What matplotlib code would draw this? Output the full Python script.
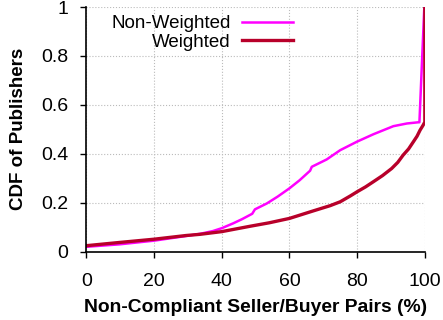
import matplotlib
matplotlib.use('Agg')
from matplotlib import pyplot as plt

# CDF of publishers vs. share of non-compliant seller/buyer pairs
x_nw = [0, 9.8, 20, 29.4, 33.6, 37.3, 40, 43.4, 46, 49.0, 49.8, 53.3, 56.5, 60, 63, 66.1, 66.6,
        71, 75, 80, 84.8, 90.7, 94.7, 98.1, 98.4, 99.85]
y_nw = [0.020, 0.030, 0.045, 0.064, 0.073, 0.084, 0.096, 0.116, 0.133, 0.155, 0.173, 0.197,
        0.225, 0.259, 0.292, 0.331, 0.347, 0.377, 0.415, 0.45, 0.48, 0.513, 0.524, 0.529,
        0.529, 1.0]

x_w = [0, 10, 20, 29.4, 33.6, 40, 48.4, 54, 60, 67.1, 72, 75, 78, 80, 82.5, 84.8, 87.5, 90.2,
       92, 93.6, 95.2, 96.6, 97.7, 98.6, 99.4, 100, 100]
y_w = [0.0245, 0.038, 0.051, 0.066, 0.071, 0.082, 0.104, 0.118, 0.136, 0.167, 0.188, 0.204,
       0.228, 0.245, 0.265, 0.286, 0.311, 0.34, 0.365, 0.395, 0.42, 0.449, 0.472, 0.497,
       0.515, 0.53, 1.0]

xticks = [0, 20, 40, 60, 80, 100]
yticks = [0, 0.2, 0.4, 0.6, 0.8, 1]
ytick_labels = ['0', '0.2', '0.4', '0.6', '0.8', '1']

plt.rcParams['font.family'] = ['Liberation Sans', 'DejaVu Sans']

fig = plt.figure(figsize=(4.43, 3.2), dpi=100)
ax = fig.add_axes([0.195, 0.2135, 0.764, 0.7645])

ax.plot(x_nw, y_nw, color='#ff00ff', linewidth=1.8, label='Non-Weighted')
ax.plot(x_w, y_w, color='#b8002a', linewidth=2.4, label='Weighted')

ax.set_xlim(0, 100)
ax.set_ylim(0, 1)
ax.set_xticks(xticks)
ax.set_yticks(yticks)
ax.set_yticklabels(ytick_labels)
ax.tick_params(labelsize=14, direction='out', length=4.5, width=1)
ax.tick_params(axis='x', pad=10.5)
ax.tick_params(axis='y', pad=8.5)

ax.grid(True, linestyle=':', color='#bbbbbb', linewidth=0.8)
ax.set_axisbelow(True)
for side in ['top', 'right']:
    ax.spines[side].set_visible(False)
ax.spines['left'].set_linewidth(1.2)
ax.spines['bottom'].set_linewidth(1.2)

ax.set_xlabel('Non-Compliant Seller/Buyer Pairs (%)', fontsize=13.9, fontweight='bold',
              labelpad=6.5)
ax.set_ylabel('CDF of Publishers', fontsize=13.5, fontweight='bold', labelpad=10)

ax.legend(loc='upper right', bbox_to_anchor=(0.61, 0.966), frameon=False, markerfirst=False,
          fontsize=13.5, handlelength=2.7, labelspacing=0.05, handletextpad=0.6,
          borderpad=0, borderaxespad=0)
for t in ax.get_legend().get_texts():
    t.set_ha('right')
ax.get_legend()._legend_box.align = 'right'

fig.savefig('out.png', dpi=100)
